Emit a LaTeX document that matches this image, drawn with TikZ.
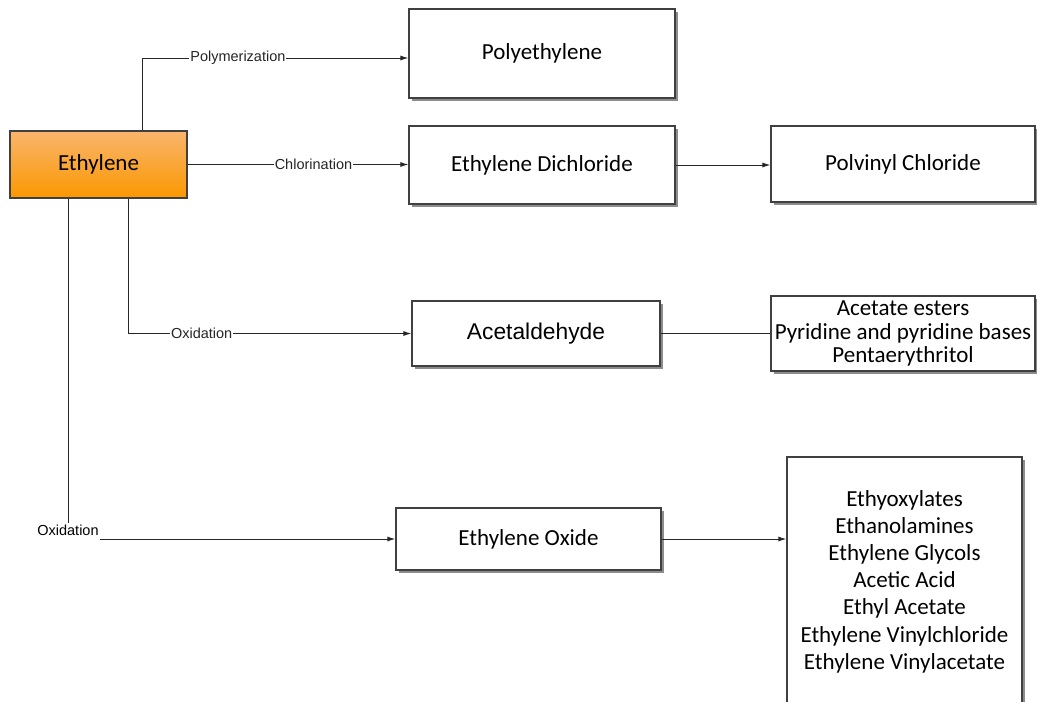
\documentclass[tikz,border=0pt]{standalone}
\usepackage{fontspec}
\setmainfont{Carlito}
\newfontfamily\labelfont{Liberation Sans}
\usetikzlibrary{arrows.meta, calc, positioning, shadows}
\definecolor{linegray}{HTML}{262626}
\definecolor{boxedge}{HTML}{404040}
\definecolor{shadowgray}{HTML}{8C8C8C}
\definecolor{orangetop}{HTML}{F9B56C}
\definecolor{orangebot}{HTML}{FB9800}

\begin{document}
\begin{tikzpicture}[x=1pt, y=-1pt,
    box/.style={draw=boxedge, line width=1.2pt, fill=white, inner sep=2pt, align=center, font=\fontsize{23}{27.5}\selectfont},
    sbox/.style={box, drop shadow={shadow xshift=2.5pt, shadow yshift=-2.5pt, fill=shadowgray, opacity=1}},
    lbl/.style={fill=white, inner sep=1pt, font={\labelfont\fontsize{14.5}{17}\selectfont}},
    line/.style={line width=1pt, color=linegray},
    arrow/.style={line, -{Latex[length=8pt, width=5pt]}}
]
\clip (0,0) rectangle (1037,702);

% start node
\node[box, minimum width=177pt, minimum height=67pt, top color=orangetop, bottom color=orangebot] (eth) at (98.5,164.5) {Ethylene};

% products
\node[sbox, minimum width=266pt, minimum height=89pt] (poly) at (542,53.5) {Polyethylene};
\node[sbox, minimum width=266pt, minimum height=78pt] (edc) at (542,165) {Ethylene Dichloride};
\node[sbox, minimum width=264pt, minimum height=76pt] (pvc) at (903,164) {Polvinyl Chloride};
\node[sbox, minimum width=248pt, minimum height=65pt, font={\labelfont\fontsize{22.8}{27}\selectfont}] (acet) at (536,333.5) {Acetaldehyde};
\node[sbox, minimum width=264pt, minimum height=75pt, font=\fontsize{23}{23.5}\selectfont] (esters) at (903,333.5) {Acetate esters\\Pyridine and pyridine bases\\Pentaerythritol};
\node[sbox, minimum width=265pt, minimum height=62pt] (eo) at (528.5,539) {Ethylene Oxide};
\node[sbox, minimum width=235pt, minimum height=249pt, font=\fontsize{23}{27.2}\selectfont] (prod) at (904.5,581.5) {Ethyoxylates\\Ethanolamines\\Ethylene Glycols\\Acetic Acid\\Ethyl Acetate\\Ethylene Vinylchloride\\Ethylene Vinylacetate};

% connectors
\draw[arrow] ([xshift=43.5pt]eth.north) |- node[lbl, pos=0.68] {Polymerization} ([yshift=-4.5pt]poly.west);
\draw[arrow] (eth.east) -- node[lbl, pos=0.57] {Chlorination} (eth.east -| edc.west);
\draw[arrow] ([xshift=29.5pt]eth.south) |- node[lbl, pos=0.63] {Oxidation} (acet.west);
\node[lbl] (oxlbl) at (68,530) {Oxidation};
\draw[line] ([xshift=-30.5pt]eth.south) -- (oxlbl.north);
\draw[arrow] (oxlbl.south east |- eo.west) -- (eo.west);
\draw[arrow] (edc.east) -- (edc.east -| pvc.west);
\draw[line] (acet.east) -- (acet.east -| esters.west);
\draw[arrow] (eo.east) -- (eo.east -| prod.west);
\end{tikzpicture}
\end{document}
